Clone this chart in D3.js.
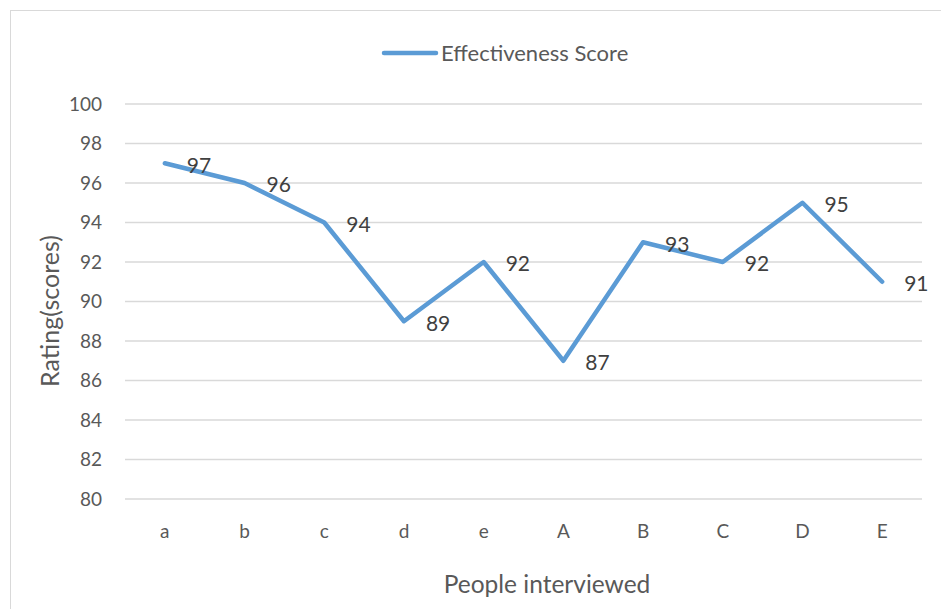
<!DOCTYPE html>
<html>
<head>
<meta charset="utf-8">
<script src="https://cdn.jsdelivr.net/npm/d3@7"></script>
<style>
  body { margin: 0; background: #fff; }
  text { font-family: Lato, "Open Sans", sans-serif; fill: #595959; }
</style>
</head>
<body>
<svg id="chart" width="941" height="609"></svg>
<script>
// data
let people = ["a", "b", "c", "d", "e", "A", "B", "C", "D", "E"];
let scores = [97, 96, 94, 89, 92, 87, 93, 92, 95, 91];
let yTicks = [80, 82, 84, 86, 88, 90, 92, 94, 96, 98, 100];

let svg = d3.select("#chart");
let margin = {left: 125, right: 19, top: 104, bottom: 110};
let W = 941, H = 609;

// outer frame
svg.append("rect")
    .attr("x", 10.5).attr("y", 10.5)
    .attr("width", 940).attr("height", 610)
    .style("fill", "none").style("stroke", "#d9d9d9").style("stroke-width", 1);

let x = d3.scaleBand()
    .domain(people)
    .range([margin.left, W - margin.right]);
let y = d3.scaleLinear()
    .domain([80, 100])
    .range([499, 104]);

// gridlines
svg.append("g").selectAll("line")
    .data(yTicks)
    .enter().append("line")
    .attr("x1", margin.left).attr("x2", W - margin.right)
    .attr("y1", d => y(d)).attr("y2", d => y(d))
    .style("stroke", "#d9d9d9").style("stroke-width", 1.3);

// y labels
svg.append("g").selectAll("text")
    .data(yTicks)
    .enter().append("text")
    .attr("x", 102)
    .attr("y", d => y(d))
    .attr("dy", "0.35em")
    .style("text-anchor", "end")
    .style("font-size", "19px")
    .text(d => d);

// x labels
svg.append("g").selectAll("text")
    .data(people)
    .enter().append("text")
    .attr("x", d => x(d) + x.bandwidth() / 2)
    .attr("y", 531)
    .attr("dy", "0.35em")
    .style("text-anchor", "middle")
    .style("font-size", "19px")
    .text(d => d);

// line
let line = d3.line()
    .x((d, i) => x(people[i]) + x.bandwidth() / 2)
    .y(d => y(d));
svg.append("path")
    .attr("d", line(scores))
    .style("fill", "none")
    .style("stroke", "#5b9bd5")
    .style("stroke-width", 4.5)
    .style("stroke-linejoin", "round")
    .style("stroke-linecap", "round");

// data labels
svg.append("g").selectAll("text")
    .data(scores)
    .enter().append("text")
    .attr("x", (d, i) => x(people[i]) + x.bandwidth() / 2 + 22)
    .attr("y", d => y(d) + 2)
    .attr("dy", "0.35em")
    .style("font-size", "21px")
    .style("fill", "#404040")
    .text(d => d);

// axis titles
svg.append("text")
    .attr("x", 547)
    .attr("y", 584)
    .attr("dy", "0.35em")
    .style("text-anchor", "middle")
    .style("font-size", "24.5px")
    .text("People interviewed");
svg.append("text")
    .attr("transform", "translate(50,311) rotate(-90)")
    .attr("dy", "0.35em")
    .style("text-anchor", "middle")
    .style("font-size", "25px")
    .text("Rating(scores)");

// legend
svg.append("line")
    .attr("x1", 384).attr("x2", 436)
    .attr("y1", 53).attr("y2", 53)
    .style("stroke", "#5b9bd5").style("stroke-width", 4.5)
    .style("stroke-linecap", "round");
svg.append("text")
    .attr("x", 441).attr("y", 53)
    .attr("dy", "0.35em")
    .style("font-size", "22px")
    .text("Effectiveness Score");
</script>
</body>
</html>
